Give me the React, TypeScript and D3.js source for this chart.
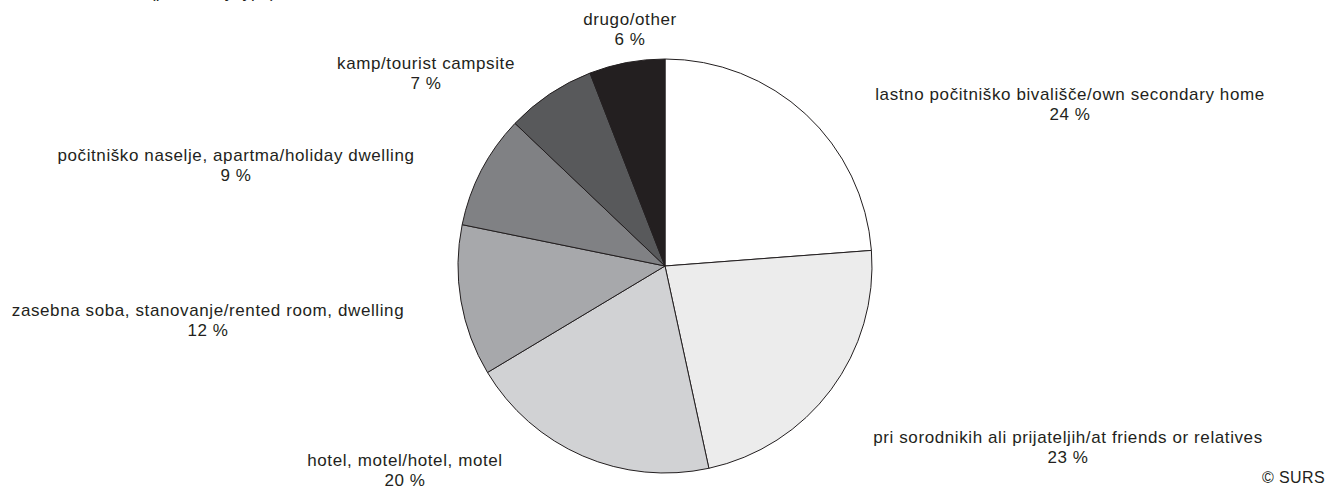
import React from "react";
import * as d3 from "d3";

const categories = [
  "lastno počitniško bivališče/own secondary home",
  "pri sorodnikih ali prijateljih/at friends or relatives",
  "hotel, motel/hotel, motel",
  "zasebna soba, stanovanje/rented room, dwelling",
  "počitniško naselje, apartma/holiday dwelling",
  "kamp/tourist campsite",
  "drugo/other",
];
const values = [23.8, 22.8, 19.8, 11.8, 8.9, 7.0, 5.9];
const valueLabels = ["24 %", "23 %", "20 %", "12 %", "9 %", "7 %", "6 %"];
const colors = ["#ffffff", "#ececec", "#d1d2d4", "#a7a8ab", "#808184", "#58595b", "#231f20"];

// label layout (center x, first baseline y)
const labelPos: [number, number][] = [
  [1070, 100],
  [1068, 443],
  [405, 466],
  [208, 316],
  [236, 161],
  [426, 69],
  [630, 25],
];

const W = 1341;
const H = 486;
const cx = 665;
const cy = 266;
const R = 207;

export default function App() {
  const pie = d3
    .pie<number>()
    .sort(null)
    .value((d) => d)
    .startAngle(0)
    .endAngle(2 * Math.PI);
  const arcs = pie(values);
  const arc = d3.arc<d3.PieArcDatum<number>>().innerRadius(0).outerRadius(R);
  const font = "Liberation Sans, Arial, sans-serif";
  return (
    <svg
      width={W}
      height={H}
      style={{ position: "absolute", left: 0, top: 0, background: "#fff" }}
    >
      <text x={150} y={-2} fontFamily={font} fontSize={17} fill="#231f20">
        (po vrsti/by type)
      </text>
      <g transform={`translate(${cx},${cy})`}>
        {arcs.map((a, i) => (
          <path
            key={i}
            d={arc(a) || ""}
            fill={colors[i]}
            stroke="#231f20"
            strokeWidth={1}
            strokeLinejoin="round"
          />
        ))}
      </g>
      {categories.map((c, i) => (
        <text
          key={c}
          x={labelPos[i][0]}
          y={labelPos[i][1]}
          textAnchor="middle"
          fontFamily={font}
          fontSize={17}
          letterSpacing={0.6}
          fill="#231f20"
        >
          <tspan x={labelPos[i][0]}>{c}</tspan>
          <tspan x={labelPos[i][0]} dy={19.5}>
            {valueLabels[i]}
          </tspan>
        </text>
      ))}
      <text x={1325} y={483} textAnchor="end" fontFamily={font} fontSize={16} letterSpacing={0.4} fill="#231f20">
        © SURS
      </text>
    </svg>
  );
}
